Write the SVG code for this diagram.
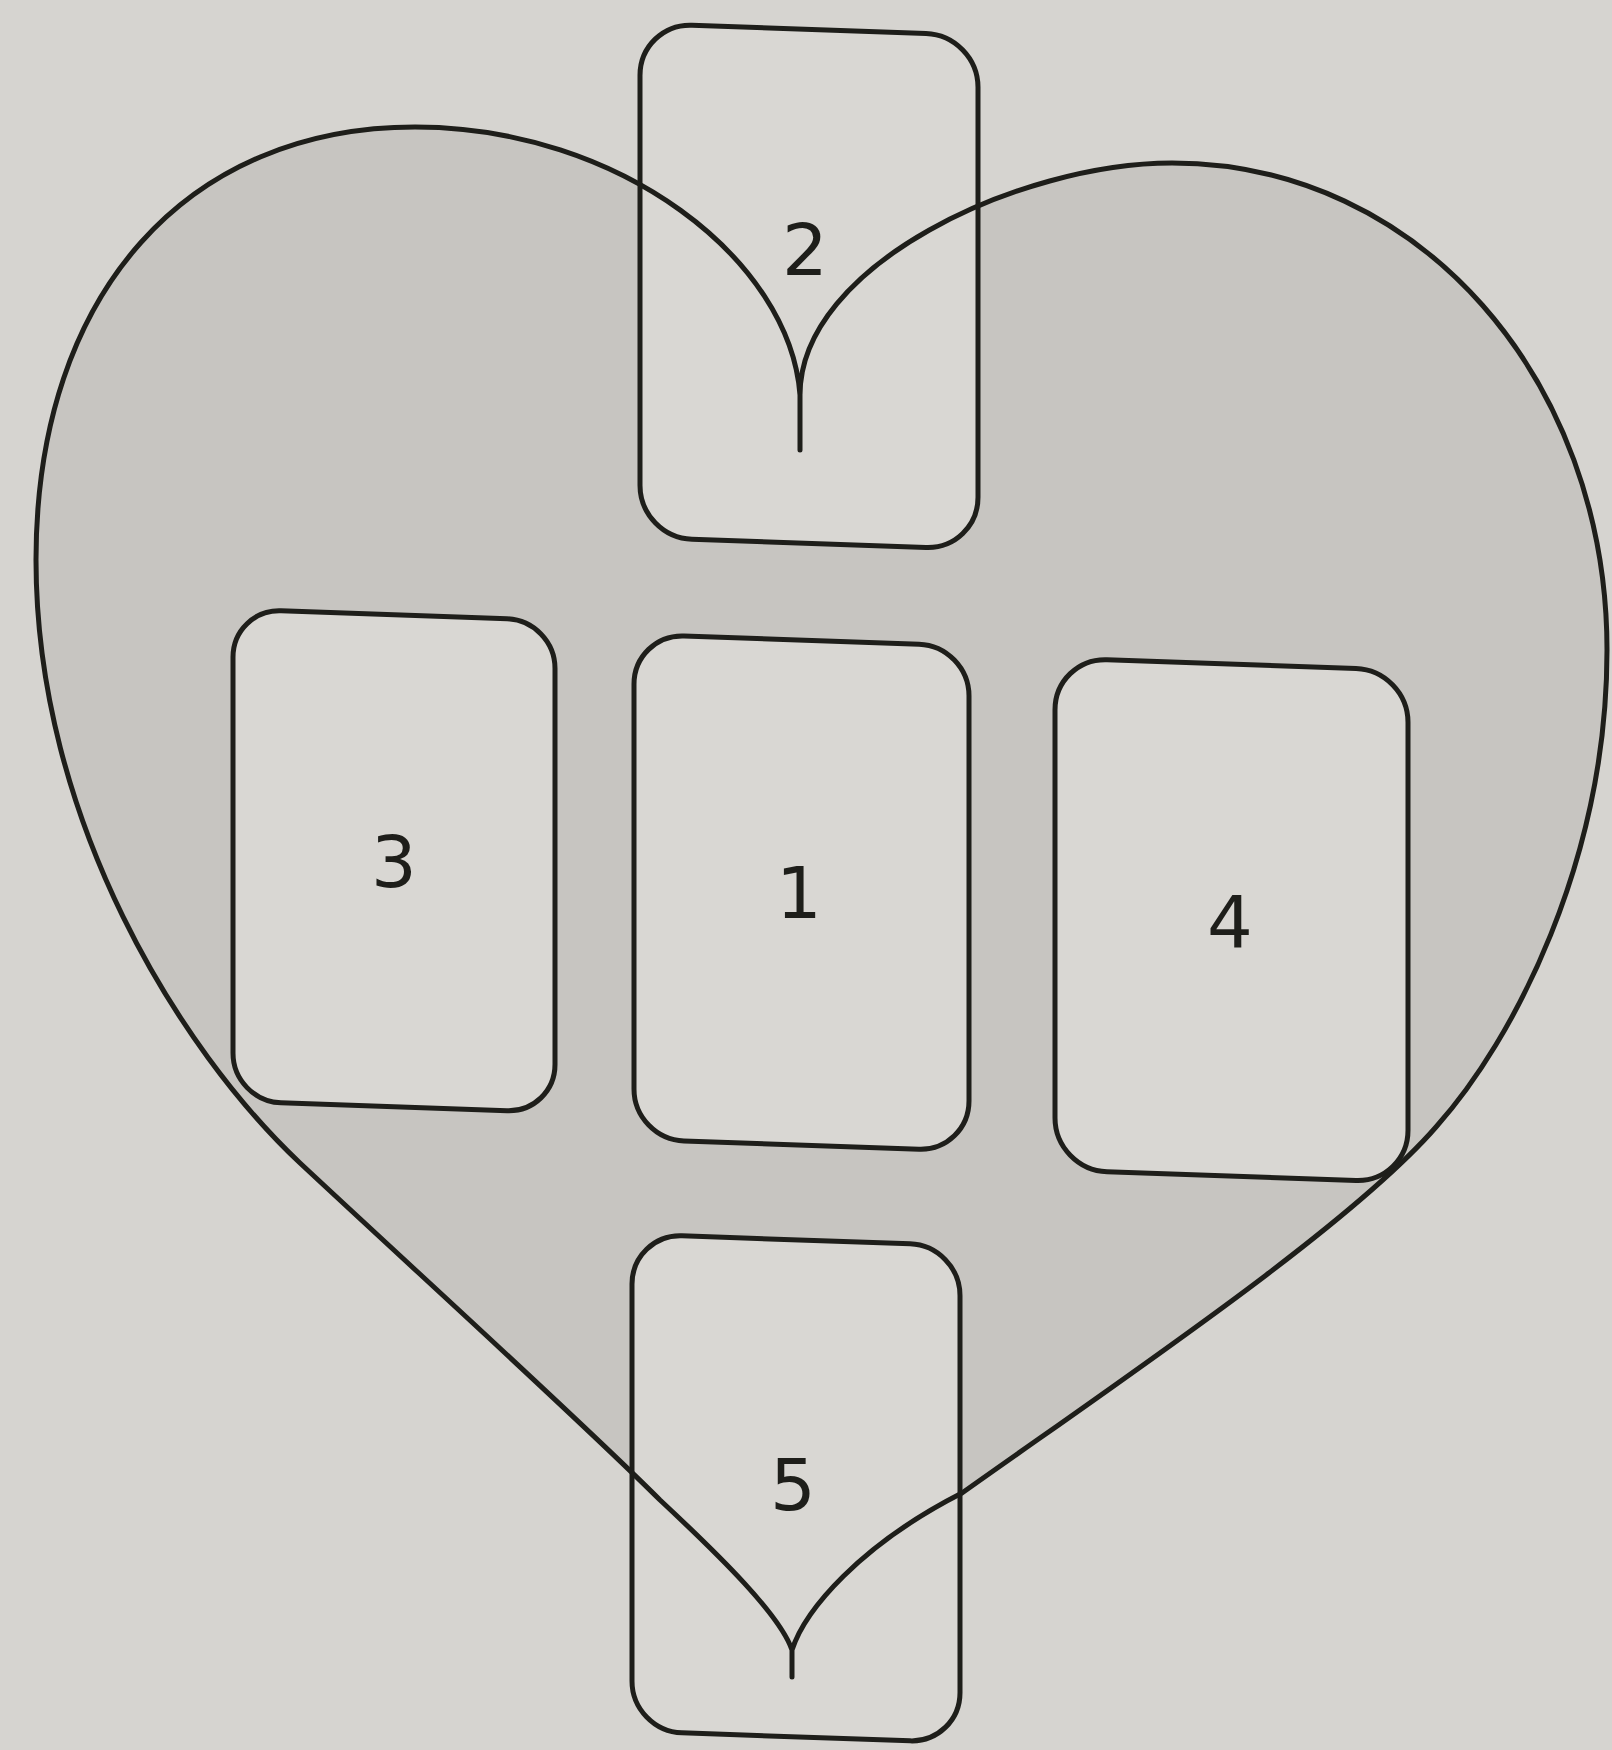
<svg xmlns="http://www.w3.org/2000/svg" width="1612" height="1750" viewBox="0 0 1612 1750">
  <style>
    .box { fill: #d9d7d3; stroke: #1e1e1a; stroke-width: 5; }
    .outline { fill: none; stroke: #1e1e1a; stroke-width: 5; stroke-linejoin: round; }
    .lbl { font-family: "DejaVu Sans", "Liberation Sans", sans-serif; font-size: 72px; fill: #1e1e1a; text-anchor: middle; }
  </style>
  <defs>
    <path id="heartPath" d="M 800,450 L 800,395 C 790,260 620,127 415,127 C 190,127 36,290 36,560 C 36,820 180,1050 300,1163 C 420,1275 580,1420 660,1500 C 720,1556 780,1615 792,1650 L 792,1677 L 792,1650 C 805,1610 860,1545 962,1493 C 1124,1378 1350,1226 1436,1127 C 1514,1040 1607,860 1607,650 C 1607,380 1420,163 1172,163 C 1020,163 800,265 800,395 Z"/>
  </defs>
  <rect x="0" y="0" width="1612" height="1750" fill="#d6d4d0"/>
  <g id="heart">
    <use href="#heartPath" fill="#c7c5c1" stroke="none"/>
  </g>
  <g id="nodes" transform="matrix(1,0.035,0,1,0,-28)">
    <g id="node-2"><rect class="box" x="640" y="29" width="338" height="514" rx="52"/></g>
    <g id="node-3"><rect class="box" x="233" y="629" width="322" height="492" rx="48"/></g>
    <g id="node-1"><rect class="box" x="634" y="640" width="335" height="505" rx="50"/></g>
    <g id="node-4"><rect class="box" x="1055" y="649" width="353" height="512" rx="52"/></g>
    <g id="node-5"><rect class="box" x="632" y="1240" width="328" height="497" rx="50"/></g>
  </g>
  <g id="heart-outline">
    <use href="#heartPath" class="outline"/>
  </g>
  <g id="connectors"/>
  <g id="labels">
    <text class="lbl" x="805" y="275">2</text>
    <text class="lbl" x="394" y="887">3</text>
    <text class="lbl" x="799" y="918">1</text>
    <text class="lbl" x="1230" y="947">4</text>
    <text class="lbl" x="793" y="1510">5</text>
  </g>
</svg>
